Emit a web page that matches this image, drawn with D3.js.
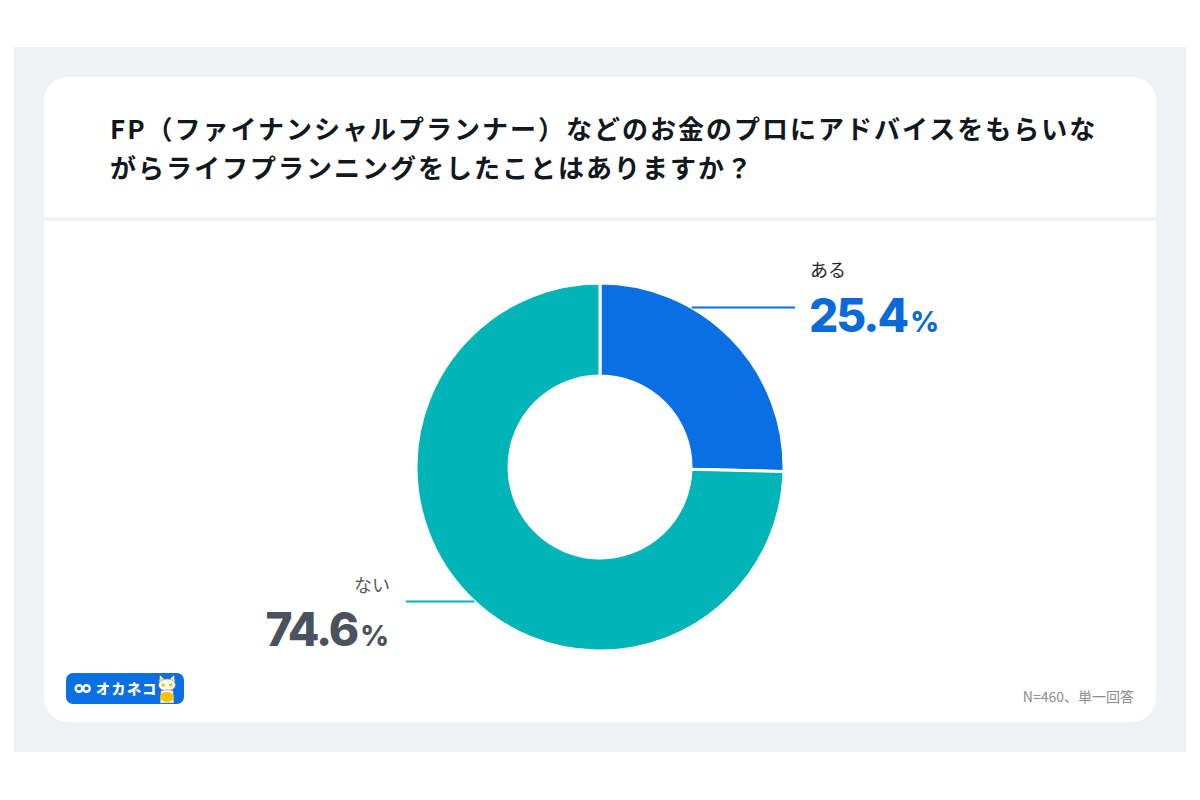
<!DOCTYPE html>
<html><head><meta charset="utf-8">
<script src="https://cdn.jsdelivr.net/npm/d3@7"></script>
<style>
html,body{margin:0;padding:0;background:#fff;}
svg{display:block;}
</style></head>
<body>
<svg id="c" width="1200" height="800"></svg>
<script>
const titleLines = ["FP（ファイナンシャルプランナー）などのお金のプロにアドバイスをもらいな", "がらライフプランニングをしたことはありますか？"];
const categories = ["ある", "ない"];
const values = [25.4, 74.6];
const colors = ["#0a6fe2", "#00b4b7"];
const labelColors = ["#0a6bd8", "#4a535d"];
const catColors = ["#222222", "#555b62"];
const note = "N=460、単一回答";

const svg = d3.select("#c");
const JP = "'Noto Sans CJK JP','Noto Sans',sans-serif";

// background panel & card
svg.append("rect").attr("x",14).attr("y",47).attr("width",1172).attr("height",705).attr("fill","#f0f1f3");
svg.append("rect").attr("x",44).attr("y",77).attr("width",1112).attr("height",645).attr("rx",24).attr("fill","#ffffff");
svg.append("rect").attr("x",44).attr("y",217).attr("width",1112).attr("height",4).attr("fill","#f0f1f3");

// title
const title = svg.append("text").attr("font-family",JP).attr("font-weight",700).attr("font-size",26).attr("fill","#111820");
titleLines.forEach((t,i)=>{
  title.append("tspan").attr("x",110).attr("y",139+i*39).attr("letter-spacing","2px").text(t);
});

// donut
const cx = 600, cy = 467, R = 184, r = 91;
const g = svg.append("g").attr("transform",`translate(${cx},${cy})`);
const pie = d3.pie().sort(null).value(d=>d)(values);
const arc = d3.arc().innerRadius(r).outerRadius(R);
g.selectAll("path").data(pie).join("path")
  .attr("d",arc).attr("fill",(d,i)=>colors[i])
  .attr("stroke","#fff").attr("stroke-width",3).attr("stroke-linejoin","miter");

// leader lines & labels
const leaders = [
  {y:307.5, side:1, x2:795},
  {y:601.5, side:-1, x2:406}
];
leaders.forEach((L,i)=>{
  const dy = L.y-cy;
  const xArc = cx + L.side*Math.sqrt(R*R-dy*dy);
  svg.append("line").attr("x1",xArc).attr("x2",L.x2).attr("y1",L.y).attr("y2",L.y)
    .attr("stroke",colors[i]).attr("stroke-width",2);
});

// ある label
svg.append("text").attr("x",810).attr("y",277).attr("font-family",JP).attr("font-size",18)
  .attr("fill",catColors[0]).text(categories[0]);
const p1 = svg.append("text").attr("x",809).attr("y",332).attr("font-family","Inter,'DejaVu Sans',sans-serif")
  .attr("font-weight",800).attr("fill",labelColors[0]).attr("letter-spacing","-2px");
p1.append("tspan").attr("font-size",46).text(values[0].toFixed(1));
p1.append("tspan").attr("font-size",28).attr("dx",3).attr("letter-spacing","0px").text("%");

// ない label
svg.append("text").attr("x",390).attr("y",592).attr("text-anchor","end").attr("font-family",JP).attr("font-size",18)
  .attr("fill",catColors[1]).text(categories[1]);
const p2 = svg.append("text").attr("x",389).attr("y",646).attr("text-anchor","end").attr("font-family","Inter,'DejaVu Sans',sans-serif")
  .attr("font-weight",800).attr("fill",labelColors[1]).attr("letter-spacing","-2px");
p2.append("tspan").attr("font-size",46).text(values[1].toFixed(1));
p2.append("tspan").attr("font-size",28).attr("dx",3).attr("letter-spacing","0px").text("%");

// note
svg.append("text").attr("x",1134).attr("y",702).attr("text-anchor","end").attr("font-family",JP).attr("font-size",14)
  .attr("fill","#8a8d91").text(note);

// logo
const lg = svg.append("g").attr("transform","translate(66,673)");
lg.append("rect").attr("width",118).attr("height",31).attr("rx",7).attr("fill","#0a6fe2");
// infinity glyph
lg.append("circle").attr("cx",13).attr("cy",15.5).attr("r",3.3).attr("fill","none").attr("stroke","#fff").attr("stroke-width",2.4);
lg.append("circle").attr("cx",20.5).attr("cy",15.5).attr("r",3.3).attr("fill","none").attr("stroke","#fff").attr("stroke-width",2.4);
lg.append("text").attr("x",30).attr("y",21).attr("font-family",JP).attr("font-weight",900).attr("font-size",14)
  .attr("fill","#fff").attr("letter-spacing","1.5px").text("オカネコ");
// cat
const cat = lg.append("g").attr("transform","translate(101,6)");
cat.append("path").attr("d","M-8,3 L-7,-4 L-3,0 L3,0 L7,-4 L8,3 Z").attr("fill","#fff").attr("stroke","#777").attr("stroke-width",0.6);
cat.append("path").attr("d","M-6.5,-2 L-4.5,0.5 L-6.5,1 Z M6.5,-2 L4.5,0.5 L6.5,1 Z").attr("fill","#f5c400");
cat.append("ellipse").attr("cx",0).attr("cy",6).attr("rx",8.5).attr("ry",6).attr("fill","#fff").attr("stroke","#777").attr("stroke-width",0.6);
cat.append("circle").attr("cx",-3.8).attr("cy",6).attr("r",1.8).attr("fill","#f5c400");
cat.append("circle").attr("cx",3.8).attr("cy",6).attr("r",1.8).attr("fill","#f5c400");
cat.append("path").attr("d","M-6,11.5 Q0,10 6,11.5 L7,24 L-7,24 Z").attr("fill","#fff").attr("stroke","#777").attr("stroke-width",0.6);
cat.append("ellipse").attr("cx",0).attr("cy",18).attr("rx",7).attr("ry",5).attr("fill","#f5c400");
</script>
</body></html>
